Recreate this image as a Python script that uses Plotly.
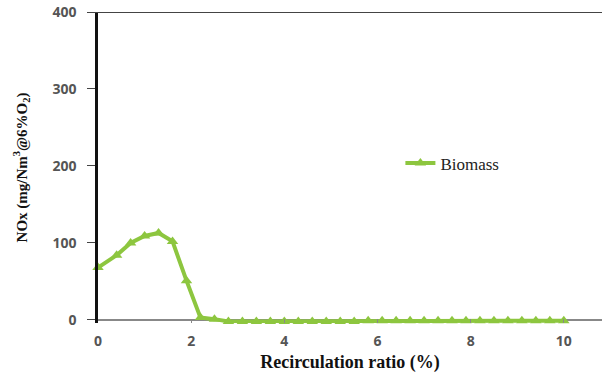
import plotly.graph_objects as go

ratio = [0, 0.4, 0.7, 1.0, 1.3, 1.6, 1.9, 2.2, 2.5,
         2.8, 3.1, 3.4, 3.7, 4.0, 4.3, 4.6, 4.9, 5.2, 5.5, 5.8,
         6.1, 6.4, 6.7, 7.0, 7.3, 7.6, 7.9, 8.2, 8.5, 8.8, 9.1,
         9.4, 9.7, 10.0]
nox = [68, 84, 100, 109, 113, 102, 51, 3, 1,
       -2, -2, -2, -2, -2, -2, -2, -2, -2, -2, -1,
       -1, -1, -1, -1, -1, -1, -1, -1, -1, -1, -1,
       -1, -1, -1]

x_ticks = [0, 2, 4, 6, 8, 10]
y_ticks = [0, 100, 200, 300, 400]

green = "#8DC63F"

fig = go.Figure()
fig.add_trace(go.Scatter(
    x=ratio, y=nox, mode="lines+markers", name="Biomass",
    line=dict(color=green, width=4),
    marker=dict(symbol="triangle-up", size=10, color=green),
    cliponaxis=False,
))

fig.add_shape(type="line", xref="paper", yref="y", x0=-0.02, x1=1, y0=400, y1=400,
              line=dict(color="#444444", width=2))

fig.update_layout(
    width=602, height=377,
    margin=dict(l=98, r=0, t=12, b=54),
    paper_bgcolor="white", plot_bgcolor="white",
    showlegend=True,
    legend=dict(x=0.6, y=0.513, xanchor="left", yanchor="middle",
                font=dict(family="Liberation Serif", size=17, color="#222222"),
                bgcolor="rgba(0,0,0,0)"),
    xaxis=dict(range=[0, 10.82], tickvals=x_ticks, showgrid=False, zeroline=False,
               showline=False,
               ticks="inside", ticklen=4, tickcolor="#888888", ticklabelstandoff=8,
               tickfont=dict(family="Open Sans", size=14, color="#555555", weight="bold"),
               title=dict(text="<b>Recirculation ratio (%)</b>",
                          font=dict(family="Liberation Serif", size=18, color="#111111"),
                          standoff=6)),
    yaxis=dict(range=[-4, 400], tickvals=y_ticks, showgrid=False,
               zeroline=True, zerolinecolor="#888888", zerolinewidth=1.5,
               showline=True, linecolor="#111111", linewidth=2.5,
               ticks="outside", ticklen=8, tickcolor="#444444", ticklabelstandoff=8,
               tickfont=dict(family="Open Sans", size=14, color="#555555", weight="bold"),
               title=dict(text="<b>NOx (mg/Nm<sup>3</sup>@6%O<sub>2</sub>)</b>",
                          font=dict(family="Liberation Serif", size=15, color="#111111"),
                          standoff=22)),
)

fig.write_html("out.html")
